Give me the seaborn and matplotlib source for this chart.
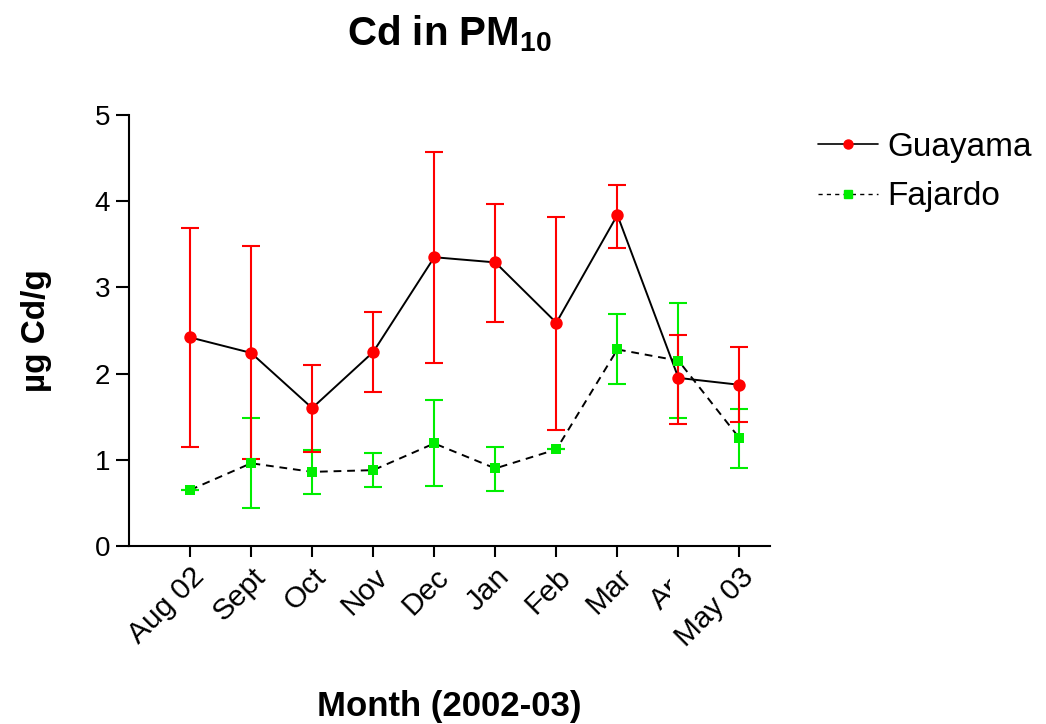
import numpy as np
import pandas as pd
import matplotlib
matplotlib.use("Agg")
import matplotlib.pyplot as plt
from matplotlib.lines import Line2D
from matplotlib.transforms import Bbox
import seaborn as sns

# Monthly cadmium content of PM10, mean with lower/upper error limits
months = ["Aug 02", "Sept", "Oct", "Nov", "Dec", "Jan", "Feb", "Mar", "Apr", "May 03"]

guayama = [2.42, 2.24, 1.60, 2.25, 3.35, 3.29, 2.59, 3.84, 1.95, 1.87]
guayama_low = [1.15, 1.01, 1.09, 1.79, 2.12, 2.60, 1.34, 3.46, 1.42, 1.44]
guayama_high = [3.69, 3.48, 2.10, 2.72, 4.57, 3.97, 3.82, 4.19, 2.45, 2.31]

fajardo = [0.65, 0.96, 0.86, 0.88, 1.19, 0.90, 1.12, 2.28, 2.15, 1.25]
fajardo_low = [0.65, 0.44, 0.60, 0.69, 0.70, 0.64, 1.12, 1.88, 1.49, 0.91]
fajardo_high = [0.65, 1.48, 1.11, 1.08, 1.69, 1.15, 1.12, 2.69, 2.82, 1.59]

yticks = [0, 1, 2, 3, 4, 5]

sns.set_theme(style="ticks")
plt.rcParams["font.family"] = ["Liberation Sans", "DejaVu Sans"]
plt.rcParams["text.color"] = "black"
plt.rcParams["axes.labelcolor"] = "black"
plt.rcParams["mathtext.fontset"] = "custom"
plt.rcParams["mathtext.rm"] = "Liberation Sans"
plt.rcParams["mathtext.bf"] = "Liberation Sans:bold"

pos = np.arange(len(months))
df = pd.concat([
    pd.DataFrame({"pos": pos, "value": guayama, "site": "Guayama"}),
    pd.DataFrame({"pos": pos, "value": fajardo, "site": "Fajardo"}),
], ignore_index=True)

fig = plt.figure(figsize=(10.46, 7.24), dpi=100)
ax = fig.add_axes([129 / 1046, 1 - 546 / 724, (770 - 129) / 1046, (546 - 115) / 724])

# error bars (Fajardo underneath Guayama)
f = np.array(fajardo)
ax.errorbar(pos, f, yerr=[f - np.array(fajardo_low), np.array(fajardo_high) - f],
            fmt="none", ecolor="#00ee00", elinewidth=1.5, capsize=6.5, capthick=1.5, zorder=2)
g = np.array(guayama)
ax.errorbar(pos, g, yerr=[g - np.array(guayama_low), np.array(guayama_high) - g],
            fmt="none", ecolor="#ff0000", elinewidth=1.5, capsize=6.5, capthick=1.5, zorder=3)

# connecting lines
sns.lineplot(data=df, x="pos", y="value", style="site",
             dashes={"Guayama": "", "Fajardo": (4, 3)},
             color="black", linewidth=1.4, legend=False, ax=ax, zorder=4)

# markers
sns.scatterplot(data=df[df.site == "Guayama"], x="pos", y="value", color="#ff0000",
                marker="o", s=80, linewidth=0, legend=False, ax=ax, zorder=5)
sns.scatterplot(data=df[df.site == "Fajardo"], x="pos", y="value", color="#00ee00",
                marker="s", s=60, linewidth=0, legend=False, ax=ax, zorder=5)

ax.set_xlim(-1, 9.5)
ax.set_ylim(0, 5)
ax.set_yticks(yticks)
ax.set_yticklabels([str(t) for t in yticks], fontsize=20)
ax.set_xticks(pos)
ax.set_xticklabels(months, fontsize=21.5, rotation=45, ha="right", va="top",
                   rotation_mode="anchor")
ax.tick_params(axis="y", length=9.5, width=1.5, pad=4, color="black", labelcolor="black")
ax.tick_params(axis="x", length=8, width=1.5, pad=4, color="black", labelcolor="black")
for side in ("left", "bottom"):
    ax.spines[side].set_linewidth(1.5)
    ax.spines[side].set_color("black")
sns.despine(ax=ax)

ax.set_xlabel("Month (2002-03)", fontsize=25, fontweight="bold")
ax.xaxis.set_label_coords(0.5, -0.335)
ax.set_ylabel("µg Cd/g", fontsize=24, fontweight="bold")
ax.yaxis.set_label_coords(-0.12, 0.5)

fig.text(0.43, 0.953, r"Cd in PM$_{\mathbf{10}}$", fontsize=29, fontweight="bold",
         ha="center", va="center")

handles = [
    Line2D([], [], color="black", linewidth=1.2, marker="o", markersize=6.5,
           markerfacecolor="#ff0000", markeredgecolor="#ff0000"),
    Line2D([], [], color="black", linewidth=1.0, linestyle=(0, (3, 3)), marker="s",
           markersize=5.5, markerfacecolor="#00ee00", markeredgecolor="#00ee00"),
]
fig.legend(handles, ["Guayama", "Fajardo"], loc="upper left",
           bbox_to_anchor=(0.769, 0.836), frameon=False, fontsize=24,
           handlelength=1.8, handletextpad=0.3, labelspacing=0.55, borderaxespad=0)

# the "May 03" label box hides the right part of "Apr"
fig.canvas.draw()
labels = ax.get_xticklabels()
may_box = labels[-1].get_window_extent()
apr = labels[-2]
apr.set_clip_on(True)
apr.set_clip_box(Bbox([[0, 0], [may_box.x0, fig.bbox.height]]))

fig.savefig("out.png", dpi=100)
